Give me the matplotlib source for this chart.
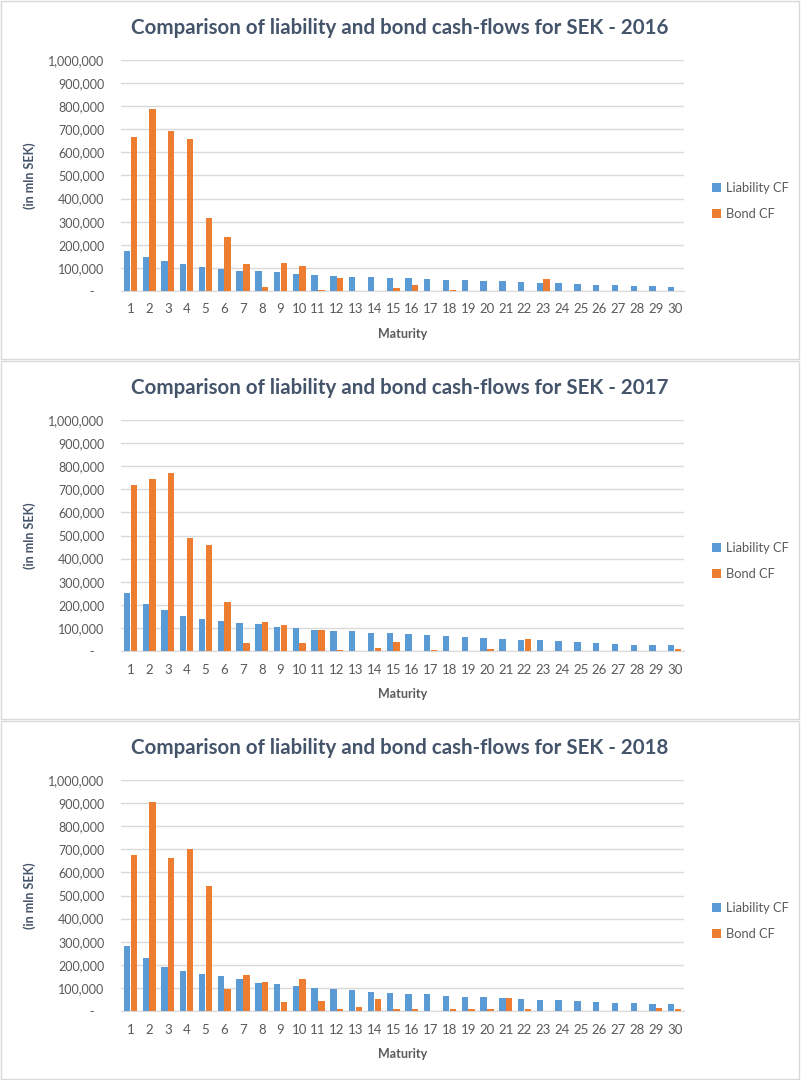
import matplotlib
matplotlib.use("Agg")
import matplotlib.pyplot as plt
import numpy as np
from matplotlib.patches import Rectangle
from matplotlib.ticker import FuncFormatter

plt.rcParams['font.family'] = ['Lato', 'DejaVu Sans']

maturity = list(range(1, 31))
years = [2016, 2017, 2018]

liability_2016 = [175000, 146000, 129000, 116000, 105000, 97000, 88000, 85000, 82000, 72000,
                  69000, 66000, 62000, 62000, 55000, 55000, 52000, 48000, 48000, 45000,
                  42000, 39000, 34000, 34000, 30000, 27000, 24000, 21000, 21000, 16000]
bond_2016 = [668000, 790000, 694000, 658000, 318000, 233000, 116000, 16000, 121000, 108000,
             6000, 56000, 0, 0, 12000, 28000, 0, 4000, 0, 0,
             0, 0, 52000, 0, 0, 0, 0, 0, 0, 0]

liability_2017 = [251000, 202000, 176000, 153000, 140000, 130000, 122000, 115000, 105000, 99000,
                  92000, 86000, 86000, 79000, 77000, 73000, 70000, 66000, 60000, 57000,
                  52000, 49000, 46000, 43000, 39000, 36000, 31000, 28000, 25000, 25000]
bond_2017 = [719000, 746000, 772000, 490000, 461000, 212000, 36000, 125000, 114000, 33000,
             92000, 6000, 0, 13000, 39000, 0, 4000, 0, 0, 7000,
             0, 52000, 0, 0, 0, 0, 0, 0, 0, 7000]

liability_2018 = [282000, 229000, 192000, 173000, 160000, 150000, 137000, 122000, 117000, 107000,
                  101000, 97000, 91000, 84000, 80000, 75000, 72000, 65000, 62000, 59000,
                  55000, 52000, 49000, 46000, 43000, 39000, 36000, 33000, 29000, 29000]
bond_2018 = [677000, 903000, 664000, 700000, 539000, 94000, 157000, 127000, 40000, 140000,
             45000, 10000, 19000, 50000, 8000, 9000, 0, 7000, 9000, 9000,
             55000, 7000, 0, 0, 0, 0, 0, 0, 12000, 7000]

liability = [liability_2016, liability_2017, liability_2018]
bond = [bond_2016, bond_2017, bond_2018]

BLUE = '#5B9BD5'
ORANGE = '#ED7D31'
GRID = '#D9D9D9'
TXT = '#595959'
TITLE = '#44546A'

W, H = 801, 1080
fig = plt.figure(figsize=(W / 100, H / 100), dpi=100)


def fmt(v, pos):
    if v == 0:
        return '-   '
    return f"{v:,.0f}"


x = np.arange(len(maturity))
for k, yr in enumerate(years):
    top = k * 360
    # panel border
    fig.patches.append(Rectangle((1 / W, 1 - (top + 359) / H), (W - 3) / W, 358 / H,
                                 transform=fig.transFigure, fill=False,
                                 edgecolor='#D9D9D9', linewidth=1))
    y0 = top + 291
    y1 = top + 60
    ax = fig.add_axes([121 / W, 1 - y0 / H, (684 - 121) / W, (y0 - y1) / H])
    ax.bar(x - 0.18, liability[k], width=0.34, color=BLUE, label='Liability CF', zorder=3)
    ax.bar(x + 0.18, bond[k], width=0.34, color=ORANGE, label='Bond CF', zorder=3)
    ax.set_xlim(-0.5, len(maturity) - 0.5)
    ax.set_ylim(0, 1000000)
    ax.set_yticks(np.arange(0, 1000001, 100000))
    ax.yaxis.set_major_formatter(FuncFormatter(fmt))
    ax.set_xticks(x)
    ax.set_xticklabels([str(m) for m in maturity])
    ax.grid(axis='y', color=GRID, linewidth=1, zorder=0)
    for s in ['top', 'right', 'left']:
        ax.spines[s].set_visible(False)
    ax.spines['bottom'].set_color(GRID)
    ax.tick_params(axis='both', length=0, labelsize=9, colors=TXT)
    ax.tick_params(axis='x', labelsize=9.5, pad=9)
    ax.tick_params(axis='y', pad=12)
    ax.set_xlabel('Maturity', fontsize=9, fontweight='bold', color=TXT, labelpad=9)
    fig.text(30 / W, 1 - (top + 176) / H, '(in mln SEK)', rotation=90, fontsize=9,
             fontweight='bold', color=TITLE, ha='center', va='center')
    fig.text(400 / W, 1 - (top + 28) / H,
             f'Comparison of liability and bond cash-flows for SEK - {yr}',
             fontsize=14.8, fontweight='bold', color=TITLE, ha='center', va='center')
    ax.legend(loc='center left', bbox_to_anchor=(700 / W, 1 - (top + 201) / H),
              bbox_transform=fig.transFigure, frameon=False, fontsize=9.3,
              labelcolor=TXT, handlelength=0.7, handleheight=0.7, handletextpad=0.4,
              labelspacing=1.1)

fig.savefig('out.png', dpi=100, facecolor='white')
